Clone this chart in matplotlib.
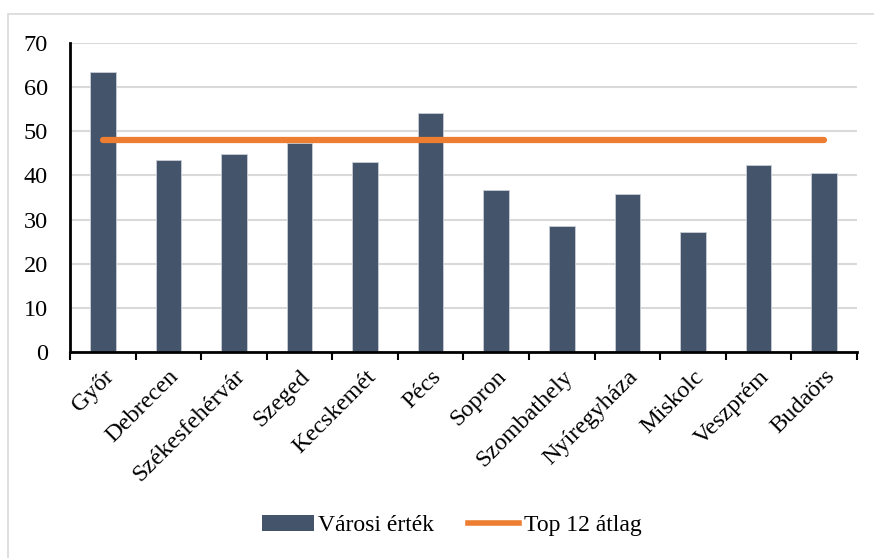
import numpy as np
import matplotlib
matplotlib.use("Agg")
import matplotlib.pyplot as plt
from matplotlib.lines import Line2D
from matplotlib.patches import Patch

cities = ["Győr", "Debrecen", "Székesfehérvár", "Szeged", "Kecskemét", "Pécs",
          "Sopron", "Szombathely", "Nyíregyháza", "Miskolc", "Veszprém", "Budaörs"]
city_values = [63.4, 43.6, 44.9, 47.4, 43.0, 54.2, 36.6, 28.6, 35.7, 27.2, 42.3, 40.5]
top12_avg = [48.0] * len(cities)

plt.rcParams['font.family'] = ['Liberation Serif', 'DejaVu Serif']

fig = plt.figure(figsize=(8.74, 5.58), dpi=100)
ax = fig.add_axes([0.0801, 0.369, 0.9004, 0.554])

# grey frame like the exported chart area
fig.patches.append(plt.Rectangle((8 / 874, -0.05), 1.2, 1 - 14 / 558 + 0.05,
                                 transform=fig.transFigure, fill=False,
                                 edgecolor='#D9D9D9', linewidth=1.2))

x = np.arange(len(cities))
ax.bar(x, city_values, width=0.39, color='#44546A', edgecolor='#C9CED6',
       linewidth=0.6, zorder=2)
ax.plot(x, top12_avg, color='#ED7D31', linewidth=4.5, solid_capstyle='round', zorder=3)

ax.set_xlim(-0.5, len(cities) - 0.5)
ax.set_ylim(0, 70)
ax.set_yticks(range(0, 71, 10))
ax.yaxis.grid(True, color='#D9D9D9', linewidth=1.5, zorder=0)
ax.set_axisbelow(True)

ax.set_xticks(x)
ax.set_xticklabels(cities, rotation=45, ha='right', rotation_mode='anchor', fontsize=17.5)
ax.tick_params(axis='x', length=0, pad=10)
ax.set_xticks(np.arange(-0.5, len(cities)), minor=True)
ax.tick_params(axis='x', which='minor', length=6, width=1.5, direction='out')
ax.tick_params(axis='y', length=0, labelsize=17.5, pad=16)

for s in ['top', 'right']:
    ax.spines[s].set_visible(False)
ax.spines['left'].set_linewidth(2)
ax.spines['bottom'].set_linewidth(2)

handles = [Patch(facecolor='#44546A', label='Városi érték'),
           Line2D([0], [0], color='#ED7D31', linewidth=4, label='Top 12 átlag')]
fig.legend(handles=handles, loc='center', bbox_to_anchor=(0.517, 0.058), ncol=2,
           frameon=False, fontsize=17, handlelength=2.2, handletextpad=0.2,
           columnspacing=1.4)

fig.savefig("out.png", dpi=100)
